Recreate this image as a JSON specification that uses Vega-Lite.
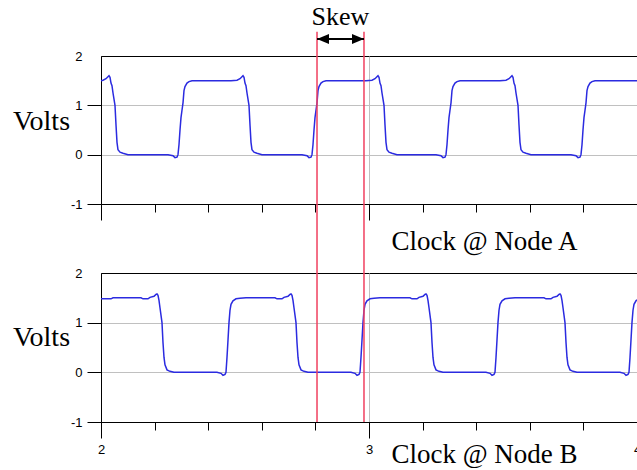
{
  "$schema": "https://vega.github.io/schema/vega-lite/v6.json",
  "background": "white",
  "padding": {"left": 11, "top": 3, "right": 0, "bottom": 0},
  "bounds": "flush",
  "spacing": 69,
  "datasets": {
    "nodeA": [
      {"t":2.0000,"v":1.5},{"t":2.0075,"v":1.51},{"t":2.0187,"v":1.54},{"t":2.0299,"v":1.6},{"t":2.0336,"v":1.57},{"t":2.0373,"v":1.45},{"t":2.0410,"v":1.4},{"t":2.0448,"v":1.25},{"t":2.0522,"v":1.0},{"t":2.0560,"v":0.6},{"t":2.0597,"v":0.25},{"t":2.0634,"v":0.1},{"t":2.0709,"v":0.05},{"t":2.0821,"v":0.03},{"t":2.1007,"v":0},
      {"t":2.2500,"v":0},{"t":2.2687,"v":-0.02},{"t":2.2761,"v":-0.06},{"t":2.2836,"v":-0.05},{"t":2.2873,"v":0},{"t":2.2910,"v":0.2},{"t":2.2948,"v":0.5},{"t":2.2985,"v":0.75},{"t":2.3022,"v":0.9},{"t":2.3060,"v":1.05},{"t":2.3097,"v":1.3},{"t":2.3134,"v":1.38},{"t":2.3209,"v":1.45},{"t":2.3284,"v":1.48},{"t":2.3396,"v":1.5},
      {"t":2.4851,"v":1.5},{"t":2.5075,"v":1.51},{"t":2.5187,"v":1.54},{"t":2.5299,"v":1.6},{"t":2.5336,"v":1.57},{"t":2.5373,"v":1.45},{"t":2.5410,"v":1.4},{"t":2.5448,"v":1.25},{"t":2.5522,"v":1.0},{"t":2.5560,"v":0.6},{"t":2.5597,"v":0.25},{"t":2.5634,"v":0.1},{"t":2.5709,"v":0.05},{"t":2.5821,"v":0.03},{"t":2.6007,"v":0},
      {"t":2.7500,"v":0},{"t":2.7687,"v":-0.02},{"t":2.7761,"v":-0.06},{"t":2.7836,"v":-0.05},{"t":2.7873,"v":0},{"t":2.7910,"v":0.2},{"t":2.7948,"v":0.5},{"t":2.7985,"v":0.75},{"t":2.8022,"v":0.9},{"t":2.8060,"v":1.05},{"t":2.8097,"v":1.3},{"t":2.8134,"v":1.38},{"t":2.8209,"v":1.45},{"t":2.8284,"v":1.48},{"t":2.8396,"v":1.5},
      {"t":2.9888,"v":1.5},{"t":3.0112,"v":1.51},{"t":3.0224,"v":1.54},{"t":3.0336,"v":1.6},{"t":3.0373,"v":1.57},{"t":3.0410,"v":1.45},{"t":3.0448,"v":1.4},{"t":3.0485,"v":1.25},{"t":3.0560,"v":1.0},{"t":3.0597,"v":0.6},{"t":3.0634,"v":0.25},{"t":3.0672,"v":0.1},{"t":3.0746,"v":0.05},{"t":3.0858,"v":0.03},{"t":3.1045,"v":0},
      {"t":3.2500,"v":0},{"t":3.2687,"v":-0.02},{"t":3.2761,"v":-0.06},{"t":3.2836,"v":-0.05},{"t":3.2873,"v":0},{"t":3.2910,"v":0.2},{"t":3.2948,"v":0.5},{"t":3.2985,"v":0.75},{"t":3.3022,"v":0.9},{"t":3.3060,"v":1.05},{"t":3.3097,"v":1.3},{"t":3.3134,"v":1.38},{"t":3.3209,"v":1.45},{"t":3.3284,"v":1.48},{"t":3.3396,"v":1.5},
      {"t":3.4888,"v":1.5},{"t":3.5112,"v":1.51},{"t":3.5224,"v":1.54},{"t":3.5336,"v":1.6},{"t":3.5373,"v":1.57},{"t":3.5410,"v":1.45},{"t":3.5448,"v":1.4},{"t":3.5485,"v":1.25},{"t":3.5560,"v":1.0},{"t":3.5597,"v":0.6},{"t":3.5634,"v":0.25},{"t":3.5672,"v":0.1},{"t":3.5746,"v":0.05},{"t":3.5858,"v":0.03},{"t":3.6045,"v":0},
      {"t":3.7537,"v":0},{"t":3.7724,"v":-0.02},{"t":3.7799,"v":-0.06},{"t":3.7873,"v":-0.05},{"t":3.7910,"v":0},{"t":3.7948,"v":0.2},{"t":3.7985,"v":0.5},{"t":3.8022,"v":0.75},{"t":3.8060,"v":0.9},{"t":3.8097,"v":1.05},{"t":3.8134,"v":1.3},{"t":3.8172,"v":1.38},{"t":3.8246,"v":1.45},{"t":3.8321,"v":1.48},{"t":3.8433,"v":1.5},{"t":4.0000,"v":1.5}
    ],
    "nodeB": [
      {"t":2.0000,"v":1.48},{"t":2.0373,"v":1.48},{"t":2.0448,"v":1.5},{"t":2.1493,"v":1.5},{"t":2.1567,"v":1.48},{"t":2.1754,"v":1.48},{"t":2.1828,"v":1.51},{"t":2.1978,"v":1.53},{"t":2.2052,"v":1.57},{"t":2.2090,"v":1.58},{"t":2.2127,"v":1.55},{"t":2.2164,"v":1.45},{"t":2.2201,"v":1.3},{"t":2.2276,"v":1.0},{"t":2.2313,"v":0.6},{"t":2.2351,"v":0.3},{"t":2.2388,"v":0.15},{"t":2.2463,"v":0.05},{"t":2.2575,"v":0.02},{"t":2.2724,"v":0},
      {"t":2.4328,"v":0},{"t":2.4478,"v":-0.02},{"t":2.4552,"v":-0.06},{"t":2.4627,"v":-0.04},{"t":2.4664,"v":0},{"t":2.4701,"v":0.3},{"t":2.4739,"v":0.65},{"t":2.4776,"v":1.0},{"t":2.4813,"v":1.25},{"t":2.4851,"v":1.37},{"t":2.4925,"v":1.44},{"t":2.5037,"v":1.48},{"t":2.5187,"v":1.49},{"t":2.5410,"v":1.5},
      {"t":2.6493,"v":1.5},{"t":2.6567,"v":1.48},{"t":2.6754,"v":1.48},{"t":2.6828,"v":1.51},{"t":2.6978,"v":1.53},{"t":2.7052,"v":1.57},{"t":2.7090,"v":1.58},{"t":2.7127,"v":1.55},{"t":2.7164,"v":1.45},{"t":2.7201,"v":1.3},{"t":2.7276,"v":1.0},{"t":2.7313,"v":0.6},{"t":2.7351,"v":0.3},{"t":2.7388,"v":0.15},{"t":2.7463,"v":0.05},{"t":2.7575,"v":0.02},{"t":2.7724,"v":0},
      {"t":2.9328,"v":0},{"t":2.9478,"v":-0.02},{"t":2.9552,"v":-0.06},{"t":2.9627,"v":-0.04},{"t":2.9664,"v":0},{"t":2.9701,"v":0.3},{"t":2.9739,"v":0.65},{"t":2.9776,"v":1.0},{"t":2.9813,"v":1.25},{"t":2.9851,"v":1.37},{"t":2.9925,"v":1.44},{"t":3.0037,"v":1.48},{"t":3.0187,"v":1.49},{"t":3.0410,"v":1.5},
      {"t":3.1530,"v":1.5},{"t":3.1604,"v":1.48},{"t":3.1791,"v":1.48},{"t":3.1866,"v":1.51},{"t":3.2015,"v":1.53},{"t":3.2090,"v":1.57},{"t":3.2127,"v":1.58},{"t":3.2164,"v":1.55},{"t":3.2201,"v":1.45},{"t":3.2239,"v":1.3},{"t":3.2313,"v":1.0},{"t":3.2351,"v":0.6},{"t":3.2388,"v":0.3},{"t":3.2425,"v":0.15},{"t":3.2500,"v":0.05},{"t":3.2612,"v":0.02},{"t":3.2761,"v":0},
      {"t":3.4366,"v":0},{"t":3.4515,"v":-0.02},{"t":3.4590,"v":-0.06},{"t":3.4664,"v":-0.04},{"t":3.4701,"v":0},{"t":3.4739,"v":0.3},{"t":3.4776,"v":0.65},{"t":3.4813,"v":1.0},{"t":3.4851,"v":1.25},{"t":3.4888,"v":1.37},{"t":3.4963,"v":1.44},{"t":3.5075,"v":1.48},{"t":3.5224,"v":1.49},{"t":3.5448,"v":1.5},
      {"t":3.6530,"v":1.5},{"t":3.6604,"v":1.48},{"t":3.6791,"v":1.48},{"t":3.6866,"v":1.51},{"t":3.7015,"v":1.53},{"t":3.7090,"v":1.57},{"t":3.7127,"v":1.58},{"t":3.7164,"v":1.55},{"t":3.7201,"v":1.45},{"t":3.7239,"v":1.3},{"t":3.7313,"v":1.0},{"t":3.7351,"v":0.6},{"t":3.7388,"v":0.3},{"t":3.7425,"v":0.15},{"t":3.7500,"v":0.05},{"t":3.7612,"v":0.02},{"t":3.7761,"v":0},
      {"t":3.9366,"v":0},{"t":3.9515,"v":-0.02},{"t":3.9590,"v":-0.06},{"t":3.9664,"v":-0.04},{"t":3.9701,"v":0},{"t":3.9739,"v":0.3},{"t":3.9776,"v":0.65},{"t":3.9813,"v":1.0},{"t":3.9851,"v":1.25},{"t":3.9888,"v":1.37},{"t":3.9963,"v":1.44},{"t":4.0000,"v":1.46}
    ],
    "skew": [{"t": 2.806}, {"t": 2.9813}],
    "arrow": [{"from": 2.806, "to": 2.9813}]
  },
  "config": {
    "view": {"stroke": "black", "strokeWidth": 1},
    "axis": {
      "domainColor": "black", "tickColor": "black", "labelColor": "black",
      "labelFont": "Liberation Sans", "labelFontSize": 13,
      "titleFont": "Liberation Serif", "titleFontSize": 27, "titleFontWeight": "normal", "titleColor": "black",
      "gridColor": "#c0c0c0", "domainWidth": 1, "tickWidth": 1
    }
  },
  "vconcat": [
    {
      "width": 536, "height": 148,
      "layer": [
        {
          "data": {"name": "nodeA"},
          "mark": {"type": "line", "color": "#2b2be0", "strokeWidth": 1.5, "clip": true},
          "encoding": {
            "x": {"field": "t", "type": "quantitative",
              "scale": {"domain": [2, 4], "nice": false, "zero": false},
              "axis": {
                "values": [2,2.1,2.2,2.3,2.4,2.5,2.6,2.7,2.8,2.9,3,3.1,3.2,3.3,3.4,3.5,3.6,3.7,3.8,3.9,4],
                "labels": false,
                "tickSize": {"condition": {"test": "datum.value % 1 === 0", "value": 16}, "value": 8},
                "grid": true,
                "gridOpacity": {"condition": {"test": "datum.value === 3", "value": 1}, "value": 0},
                "title": "Clock @ Node A", "titleX": 383, "titleY": 45, "titleAlign": "center", "titleBaseline": "alphabetic"
              }
            },
            "y": {"field": "v", "type": "quantitative",
              "scale": {"domain": [-1, 2], "nice": false, "zero": false},
              "axis": {
                "values": [-1,-0.5,0,0.5,1,1.5,2],
                "labelExpr": "datum.value % 1 === 0 ? '' + datum.value : ''",
                "tickSize": {"condition": {"test": "datum.value % 1 === 0", "value": 14}, "value": 7},
                "tickOpacity": {"condition": {"test": "datum.value === 2", "value": 0}, "value": 1},
                "labelPadding": 5,
                "grid": true,
                "gridOpacity": {"condition": {"test": "datum.value === 0 || datum.value === 1", "value": 1}, "value": 0},
                "title": "Volts", "titleFontSize": 28, "titleAngle": 0, "titleX": -60, "titleY": 73, "titleAlign": "center", "titleBaseline": "alphabetic"
              }
            }
          }
        },
        {
          "data": {"name": "skew"},
          "mark": {"type": "rule", "color": "#f0405f", "strokeWidth": 1.5},
          "encoding": {
            "x": {"field": "t", "type": "quantitative"},
            "y": {"datum": 2.49},
            "y2": {"datum": -2.4}
          }
        },
        {
          "data": {"name": "arrow"},
          "mark": {"type": "rule", "color": "black", "strokeWidth": 2},
          "encoding": {
            "x": {"field": "from", "type": "quantitative"},
            "x2": {"field": "to"},
            "y": {"datum": 2.345}
          }
        },
        {
          "data": {"name": "arrow"},
          "mark": {"type": "point", "shape": "M0,0 L2,-0.85 L2,0.85 Z", "filled": true, "color": "black", "size": 144, "opacity": 1},
          "encoding": {
            "x": {"field": "from", "type": "quantitative"},
            "y": {"datum": 2.345}
          }
        },
        {
          "data": {"name": "arrow"},
          "mark": {"type": "point", "shape": "M0,0 L-2,-0.85 L-2,0.85 Z", "filled": true, "color": "black", "size": 144, "opacity": 1},
          "encoding": {
            "x": {"field": "to", "type": "quantitative"},
            "y": {"datum": 2.345}
          }
        },
        {
          "data": {"name": "arrow"},
          "mark": {"type": "text", "text": "Skew", "font": "Liberation Serif", "fontSize": 26, "color": "black", "baseline": "alphabetic", "align": "center"},
          "encoding": {
            "x": {"datum": 2.8937},
            "y": {"datum": 2.63}
          }
        }
      ]
    },
    {
      "width": 536, "height": 149,
      "layer": [
        {
          "data": {"name": "nodeB"},
          "mark": {"type": "line", "color": "#2b2be0", "strokeWidth": 1.5, "clip": true},
          "encoding": {
            "x": {"field": "t", "type": "quantitative",
              "scale": {"domain": [2, 4], "nice": false, "zero": false},
              "axis": {
                "values": [2,2.1,2.2,2.3,2.4,2.5,2.6,2.7,2.8,2.9,3,3.1,3.2,3.3,3.4,3.5,3.6,3.7,3.8,3.9,4],
                "labelExpr": "datum.value % 1 === 0 ? '' + datum.value : ''",
                "labelPadding": 5,
                "labelFlush": false,
                "tickSize": {"condition": {"test": "datum.value % 1 === 0", "value": 16}, "value": 8},
                "grid": true,
                "gridOpacity": {"condition": {"test": "datum.value === 3", "value": 1}, "value": 0},
                "title": "Clock @ Node B", "titleX": 383, "titleY": 40, "titleAlign": "center", "titleBaseline": "alphabetic"
              }
            },
            "y": {"field": "v", "type": "quantitative",
              "scale": {"domain": [-1, 2], "nice": false, "zero": false},
              "axis": {
                "values": [-1,-0.5,0,0.5,1,1.5,2],
                "labelExpr": "datum.value % 1 === 0 ? '' + datum.value : ''",
                "tickSize": {"condition": {"test": "datum.value % 1 === 0", "value": 14}, "value": 7},
                "tickOpacity": {"condition": {"test": "datum.value === 2", "value": 0}, "value": 1},
                "labelPadding": 5,
                "grid": true,
                "gridOpacity": {"condition": {"test": "datum.value === 0 || datum.value === 1", "value": 1}, "value": 0},
                "title": "Volts", "titleFontSize": 28, "titleAngle": 0, "titleX": -60, "titleY": 72, "titleAlign": "center", "titleBaseline": "alphabetic"
              }
            }
          }
        },
        {
          "data": {"name": "skew"},
          "mark": {"type": "rule", "color": "#f0405f", "strokeWidth": 1.5},
          "encoding": {
            "x": {"field": "t", "type": "quantitative"},
            "y": {"datum": 2},
            "y2": {"datum": -1}
          }
        }
      ]
    }
  ]
}
